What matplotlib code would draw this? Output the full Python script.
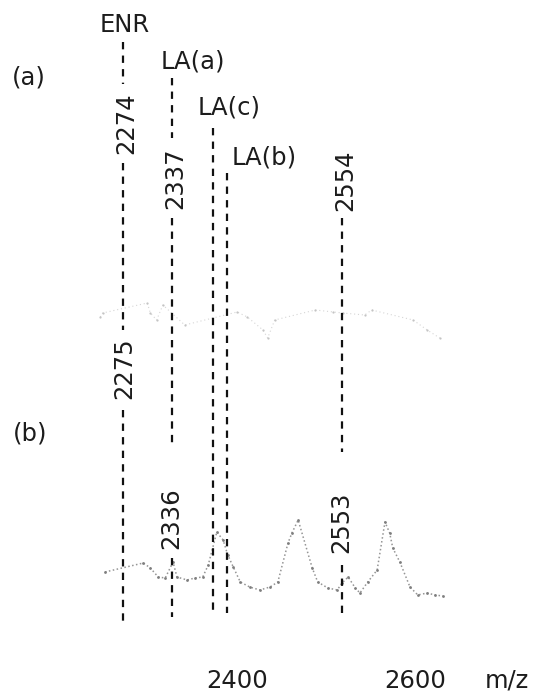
import matplotlib
matplotlib.use("Agg")
import matplotlib.pyplot as plt
import matplotlib.transforms as mtransforms

# ---------------- data ----------------
assign_names = ["ENR", "LA(a)", "LA(c)", "LA(b)"]
assign_mz = [2274, 2337, 2389, 2407]

peaks_a_labels = ["2274", "2337", "2554"]
peaks_a_mz = [2274, 2337, 2554]
peaks_b_labels = ["2275", "2336", "2553"]
peaks_b_mz = [2275, 2336, 2553]

tick_mz = [2400, 2600]
tick_labels = ["2400", "2600"]

# spectrum (a): faint trace (m/z, relative intensity)
spec_a_mz = [2245, 2248, 2305, 2309, 2317, 2325, 2353, 2420, 2433, 2453,
             2459, 2468, 2520, 2543, 2555, 2583, 2592, 2645, 2663, 2679]
spec_a_int = [28, 32, 42, 32, 25, 40, 20, 33, 28, 15,
              7, 25, 35, 33, 32, 30, 35, 25, 15, 7]

# spectrum (b)
spec_b_mz = [2251, 2300, 2309, 2319, 2328, 2338, 2343, 2356, 2366, 2376,
             2383, 2394, 2402, 2408, 2415, 2424, 2436, 2449, 2462, 2472,
             2485, 2490, 2498, 2516, 2523, 2536, 2548, 2554, 2562, 2571,
             2577, 2587, 2599, 2609, 2615, 2619, 2628, 2641, 2651, 2663,
             2673, 2683]
spec_b_int = [28, 37, 32, 23, 22, 38, 23, 20, 22, 23,
              35, 68, 60, 45, 33, 18, 13, 10, 13, 18,
              57, 67, 80, 32, 18, 12, 10, 17, 23, 12,
              7, 18, 30, 78, 67, 52, 38, 13, 5, 7,
              5, 4]

# ---------------- layout ----------------
W, H = 539, 698
AX_BOTTOM = 655            # pixel row of axes bottom
fig = plt.figure(figsize=(W / 100, H / 100), dpi=100)
ax = fig.add_axes([0, (H - AX_BOTTOM) / H, 1, AX_BOTTOM / H])
px_per_mz = 0.782
mz0, px0 = 2274, 123
ax.set_xlim(mz0 - px0 / px_per_mz, mz0 + (W - px0) / px_per_mz)
ax.set_ylim(AX_BOTTOM, 0)  # y measured as rows from top
for s in ax.spines.values():
    s.set_visible(False)
ax.set_yticks([])

FS = 17.5
TXT = "#1c1c1c"
font = dict(family="DejaVu Sans", color=TXT, fontsize=FS)

base_a, base_b = 345, 600

# spectra
ax.plot(spec_a_mz, [base_a - v for v in spec_a_int], color="#d6d6d6",
        lw=0.8, ls=(0, (1, 2.5)), marker="o", ms=1.6, mec="none", mfc="#c4c4c4")
ax.plot(spec_b_mz, [base_b - v for v in spec_b_int], color="#959595",
        lw=1.1, ls=(0, (1, 1.6)), marker="o", ms=2.0, mec="none", mfc="#7e7e7e")

# dashed marker lines: segments (top row, bottom row)
dash = dict(color="#111111", lw=1.6, ls=(0, (3.3, 2.8)))
segments = {
    2274: [(42, 84), (163, 330), (410, 625)],
    2337: [(78, 138), (218, 447), (558, 617)],
    2389: [(128, 613)],
    2407: [(173, 613)],
    2554: [(218, 452), (565, 613)],
}
for mz, segs in segments.items():
    for top, bot in segs:
        ax.plot([mz, mz], [top, bot], **dash)

# assignment names
name_rows = [25, 62, 108, 157]
name_dx = [2, 21, 16, 37]  # pixel offsets of label centres from line
for name, mz, row, dx in zip(assign_names, assign_mz, name_rows, name_dx):
    off = mtransforms.offset_copy(ax.transData, fig=fig, x=dx * 0.72, y=0, units="points")
    ax.text(mz, row, name, ha="center", va="center", transform=off, **font)

# rotated peak labels
rows_a = [123, 178, 180]
rows_b = [368, 518, 522]
for lab, mz, row in zip(peaks_a_labels, peaks_a_mz, rows_a):
    off = mtransforms.offset_copy(ax.transData, fig=fig, x=3 * 0.72, y=0, units="points")
    ax.text(mz, row, lab, rotation=90, ha="center", va="center", transform=off, **font)
for lab, mz, row in zip(peaks_b_labels, peaks_b_mz, rows_b):
    off = mtransforms.offset_copy(ax.transData, fig=fig, x=0, y=0, units="points")
    ax.text(mz, row, lab, rotation=90, ha="center", va="center", transform=off, **font)

# panel letters
fig.text(29 / W, 1 - 78 / H, "(a)", ha="center", va="center", **font)
fig.text(30 / W, 1 - 433 / H, "(b)", ha="center", va="center", **font)

# x ticks
ax.set_xticks(tick_mz)
ax.set_xticklabels(tick_labels, fontsize=FS, color=TXT, family="DejaVu Sans")
ax.tick_params(axis="x", length=0, pad=10)
tick_dx = [16, 37]
for lbl, dx in zip(ax.get_xticklabels(), tick_dx):
    lbl.set_transform(lbl.get_transform() +
                      mtransforms.ScaledTranslation(dx / 100, 0, fig.dpi_scale_trans))

ax.set_xlabel("m/z", fontsize=FS, color=TXT, family="DejaVu Sans")
ax.xaxis.set_label_coords(507 / W, -(680 - AX_BOTTOM) / AX_BOTTOM)
ax.xaxis.label.set_va("center")

fig.savefig("out.png", dpi=100, facecolor="white")
